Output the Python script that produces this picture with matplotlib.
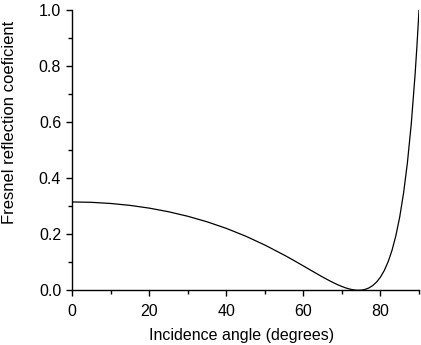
import matplotlib
matplotlib.use("Agg")
import matplotlib.pyplot as plt
from matplotlib.ticker import MultipleLocator

# incidence angle (degrees) and reflection coefficient
angle = [0, 5, 10, 15, 20, 25, 30, 35, 40, 45, 50, 55, 56, 58, 60, 62, 64,
         65, 66, 67, 68, 69, 70, 71, 72, 73, 74, 75, 76, 77, 78, 79, 80,
         81, 82, 83, 84, 85, 86, 87, 88, 89, 89.5, 89.8, 90]
refl = [0.3152, 0.3138, 0.3097, 0.3029, 0.2931, 0.2802, 0.2640, 0.2443,
        0.2208, 0.1932, 0.1614, 0.1256, 0.1181, 0.1026, 0.0868, 0.0708,
        0.0550, 0.0473, 0.0398, 0.0325, 0.0256, 0.0192, 0.0135, 0.0084,
        0.0044, 0.0015, 0.0001, 0.0005, 0.0031, 0.0083, 0.0169, 0.0295,
        0.0471, 0.0708, 0.1020, 0.1426, 0.1948, 0.2616, 0.3468, 0.4555,
        0.5941, 0.7716, 0.8785, 0.9495, 1.0]

plt.rcParams['font.family'] = ['Liberation Sans', 'DejaVu Sans']

fig = plt.figure(figsize=(4.21, 3.45), dpi=100)
ax = fig.add_axes([0.1717, 0.1586, 0.8235, 0.8124])

ax.plot(angle, refl, color="black", lw=0.9)

ax.set_xlim(0, 90)
ax.set_ylim(0, 1.0)
ax.xaxis.set_major_locator(MultipleLocator(20))
ax.xaxis.set_minor_locator(MultipleLocator(10))
ax.yaxis.set_major_locator(MultipleLocator(0.2))
ax.yaxis.set_minor_locator(MultipleLocator(0.1))
ax.yaxis.set_major_formatter(matplotlib.ticker.FormatStrFormatter("%.1f"))

for side in ["top", "right"]:
    ax.spines[side].set_visible(False)
for side in ["left", "bottom"]:
    ax.spines[side].set_linewidth(1.0)

ax.tick_params(which="major", direction="out", length=4, width=1.0,
               labelsize=11.5, pad=4)
ax.tick_params(axis="x", which="major", pad=6)
ax.tick_params(which="minor", direction="out", length=3, width=1.0)

ax.set_xlabel("Incidence angle (degrees)", fontsize=11.5)
ax.set_ylabel("Fresnel reflection coeficient", fontsize=12)
ax.xaxis.set_label_coords(0.487, -0.135)
ax.yaxis.set_label_coords(-0.16, 0.6)

fig.savefig("out.png", dpi=100)
